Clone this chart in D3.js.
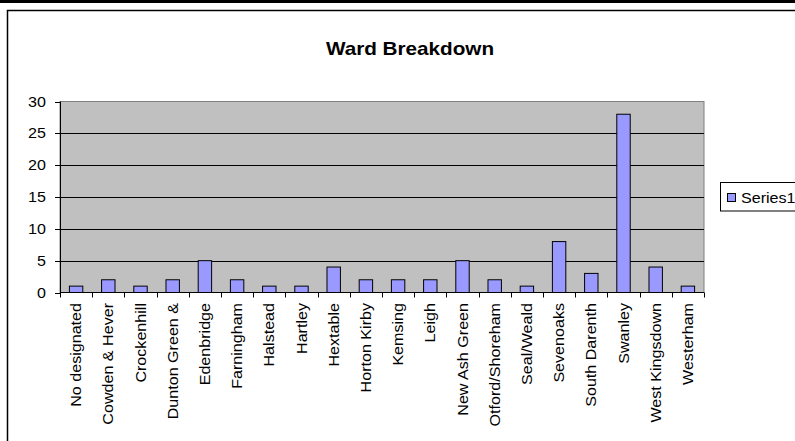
<!DOCTYPE html>
<html>
<head>
<meta charset="utf-8">
<script src="https://cdn.jsdelivr.net/npm/d3@7"></script>
<style>
  body { margin: 0; background: #fff; }
  svg { display: block; font-family: "Liberation Sans", Arial, sans-serif; }
</style>
</head>
<body>
<script>
'use strict';

const wards = ['No designated', 'Cowden & Hever', 'Crockenhill', 'Dunton Green &',
  'Edenbridge', 'Farningham', 'Halstead', 'Hartley', 'Hextable', 'Horton Kirby',
  'Kemsing', 'Leigh', 'New Ash Green', 'Otford/Shoreham', 'Seal/Weald',
  'Sevenoaks', 'South Darenth', 'Swanley', 'West Kingsdown', 'Westerham'];
const counts = [1, 2, 1, 2, 5, 2, 1, 1, 4, 2, 2, 2, 5, 2, 1, 8, 3, 28, 4, 1];
const yTicks = [0, 5, 10, 15, 20, 25, 30];
const seriesName = 'Series1';
const chartTitle = 'Ward Breakdown';

const width = 795, height = 441;
const plot = { left: 60, right: 704, top: 101.5, bottom: 292.5 };
const stretch = 1.15; // text in the original is a bit wide

const svg = d3.select('body').append('svg')
  .attr('width', width).attr('height', height);

// page rule and chart frame
svg.append('rect').attr('x', 0).attr('y', 0).attr('width', width).attr('height', 3)
  .attr('fill', '#000');
svg.append('rect').attr('x', 7.5).attr('y', 10.5).attr('width', 820).attr('height', 460)
  .attr('fill', '#fff').attr('stroke', '#000').attr('stroke-width', 1.5);

svg.append('text')
  .attr('transform', `translate(410,55) scale(${stretch},1)`)
  .attr('text-anchor', 'middle')
  .attr('font-size', 18).attr('font-weight', 'bold')
  .text(chartTitle);

const x = d3.scaleBand().domain(wards).range([plot.left, plot.right]);
const y = d3.scaleLinear().domain([0, 30]).range([plot.bottom, plot.top]);

svg.append('rect')
  .attr('x', plot.left).attr('y', plot.top)
  .attr('width', plot.right - plot.left).attr('height', plot.bottom - plot.top)
  .attr('fill', '#c0c0c0').attr('stroke', '#808080').attr('stroke-width', 1);

// gridlines
svg.append('g').selectAll('line')
  .data(yTicks.filter((d) => d > 0 && d < 30))
  .enter().append('line')
  .attr('x1', plot.left).attr('x2', plot.right)
  .attr('y1', (d) => Math.round(y(d)) + 0.5).attr('y2', (d) => Math.round(y(d)) + 0.5)
  .attr('stroke', '#000');

// bars
const barW = x.bandwidth() / 2.4;
svg.append('g').selectAll('rect')
  .data(counts)
  .enter().append('rect')
  .attr('x', (d, i) => x(wards[i]) + (x.bandwidth() - barW) / 2)
  .attr('y', (d) => y(d))
  .attr('width', barW)
  .attr('height', (d) => y(0) - y(d))
  .attr('fill', '#9999ff').attr('stroke', '#000').attr('stroke-width', 1);

// y axis
const yAxis = svg.append('g');
yAxis.append('line')
  .attr('x1', plot.left + 0.5).attr('x2', plot.left + 0.5)
  .attr('y1', plot.top).attr('y2', plot.bottom).attr('stroke', '#000');
yAxis.selectAll('.tk').data(yTicks).enter().append('line')
  .attr('x1', plot.left - 5).attr('x2', plot.left)
  .attr('y1', (d) => Math.round(y(d)) + 0.5).attr('y2', (d) => Math.round(y(d)) + 0.5)
  .attr('stroke', '#000');
yAxis.selectAll('text').data(yTicks).enter().append('text')
  .attr('transform', (d) => `translate(46,${y(d) + 5}) scale(${stretch},1)`)
  .attr('text-anchor', 'end')
  .attr('font-size', 14)
  .text((d) => d);

// x axis
const xAxis = svg.append('g');
xAxis.append('line')
  .attr('x1', plot.left).attr('x2', plot.right)
  .attr('y1', plot.bottom).attr('y2', plot.bottom).attr('stroke', '#000');
xAxis.selectAll('.tk').data(wards.map((w) => x(w)).concat([plot.right]))
  .enter().append('line')
  .attr('x1', (d) => Math.round(d) + 0.5).attr('x2', (d) => Math.round(d) + 0.5)
  .attr('y1', plot.bottom).attr('y2', plot.bottom + 5)
  .attr('stroke', '#000');
xAxis.selectAll('text').data(wards).enter().append('text')
  .attr('transform', (d) =>
    `translate(${x(d) + x.bandwidth() / 2 + 5},303) rotate(-90) scale(${stretch},1)`)
  .attr('text-anchor', 'end')
  .attr('font-size', 14)
  .text((d) => d);

// legend
const legend = svg.append('g');
legend.append('rect')
  .attr('x', 720.5).attr('y', 182.5).attr('width', 90).attr('height', 28.5)
  .attr('fill', '#fff').attr('stroke', '#000');
legend.append('rect')
  .attr('x', 727.5).attr('y', 193.5).attr('width', 8).attr('height', 8)
  .attr('fill', '#9999ff').attr('stroke', '#000');
legend.append('text')
  .attr('transform', `translate(741,202.5) scale(${stretch},1)`)
  .attr('font-size', 14)
  .text(seriesName);
</script>
</body>
</html>
